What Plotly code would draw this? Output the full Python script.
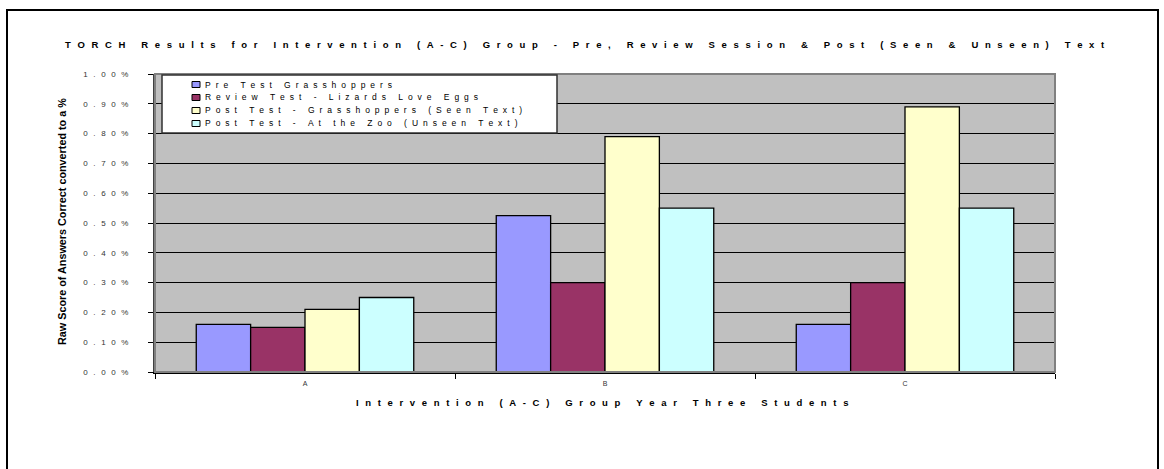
import plotly.graph_objects as go

# ---------------- data ----------------
categories = ["A", "B", "C"]
series_names = [
    "Pre Test Grasshoppers",
    "Review Test - Lizards Love Eggs",
    "Post Test - Grasshoppers (Seen Text)",
    "Post Test - At the Zoo (Unseen Text)",
]
pre_test = [0.16, 0.525, 0.16]
review_test = [0.15, 0.30, 0.30]
post_seen = [0.21, 0.79, 0.89]
post_unseen = [0.25, 0.55, 0.55]
series_values = [pre_test, review_test, post_seen, post_unseen]
series_colors = ["#9999FF", "#993366", "#FFFFCC", "#CCFFFF"]
y_ticks = [0.0, 0.1, 0.2, 0.3, 0.4, 0.5, 0.6, 0.7, 0.8, 0.9, 1.0]
y_tick_labels = ["0.00%", "0.10%", "0.20%", "0.30%", "0.40%", "0.50%",
                 "0.60%", "0.70%", "0.80%", "0.90%", "1.00%"]
title_text = "TORCH Results for Intervention (A-C) Group - Pre, Review Session & Post (Seen & Unseen) Text"
x_title_text = "Intervention (A-C) Group Year Three Students"
y_title_text = "Raw Score of Answers Correct converted to a %"

# ---------------- layout helpers ----------------
W, H = 1164, 469
ML, MR, MT, MB = 155, 109, 74, 97
PW, PH = W - ML - MR, H - MT - MB
FONT = "Liberation Sans, Arial, sans-serif"


def px(x):
    return (x - ML) / PW


def py(y):
    return (H - MB - y) / PH


def spaced(s, sep="\u2002\u2009"):
    return sep.join(ch if ch != " " else "\u00a0" for ch in s)


fig = go.Figure()
for name, vals, col in zip(series_names, series_values, series_colors):
    fig.add_trace(go.Bar(
        x=categories, y=vals, name=name,
        marker=dict(color=col, line=dict(color="#000000", width=1.3)),
        showlegend=False,
    ))

shapes = []
annotations = []

# outer chart frame: left, top and right edges (bottom edge lies below the page)
frame_path = "M {l},{b} L {l},{t} L {r},{t} L {r},{b}".format(
    l=px(7), r=px(1158), t=py(10), b=py(469))
shapes.append(dict(type="path", xref="paper", yref="paper", path=frame_path,
                   line=dict(color="#000000", width=2), layer="below"))
# plot area border (grey top/right)
shapes.append(dict(type="rect", xref="paper", yref="paper",
                   x0=0, x1=1, y0=0, y1=1,
                   line=dict(color="#808080", width=2), fillcolor="rgba(0,0,0,0)",
                   layer="above"))

# custom legend box
shapes.append(dict(type="rect", xref="paper", yref="paper",
                   x0=px(162), x1=px(557), y0=py(133), y1=py(75),
                   line=dict(color="#303030", width=1.5), fillcolor="#FFFFFF",
                   layer="above"))
row_y = [84.5, 97.5, 110.5, 123.5]
for name, col, ry in zip(series_names, series_colors, row_y):
    shapes.append(dict(type="rect", xref="paper", yref="paper",
                       x0=px(192), x1=px(200), y0=py(ry + 3), y1=py(ry - 3),
                       line=dict(color="#000000", width=1), fillcolor=col,
                       layer="above"))
    annotations.append(dict(text=spaced(name, "\u2002\u200a"), xref="paper", yref="paper",
                            x=px(203), y=py(ry), xanchor="left", yanchor="middle",
                            showarrow=False, font=dict(family=FONT, size=8.5, color="#000000")))

# title
annotations.append(dict(text="<b>" + spaced(title_text) + "</b>", xref="paper", yref="paper",
                        x=px(585), y=py(44), xanchor="center", yanchor="middle",
                        showarrow=False, font=dict(family=FONT, size=9.5, color="#000000")))
# x axis title
annotations.append(dict(text="<b>" + spaced(x_title_text) + "</b>", xref="paper", yref="paper",
                        x=px(602), y=py(402), xanchor="center", yanchor="middle",
                        showarrow=False, font=dict(family=FONT, size=9.5, color="#000000")))
# y axis title
annotations.append(dict(text="<b>" + y_title_text + "</b>", xref="paper", yref="paper",
                        x=px(62), y=py(222), xanchor="center", yanchor="middle", textangle=-90,
                        showarrow=False, font=dict(family=FONT, size=10.8, color="#000000")))

fig.update_layout(
    width=W, height=H,
    margin=dict(l=ML, r=MR, t=MT, b=MB, pad=0),
    paper_bgcolor="#FFFFFF",
    plot_bgcolor="#C0C0C0",
    barmode="group",
    bargap=0.275,
    bargroupgap=0,
    showlegend=False,
    shapes=shapes,
    annotations=annotations,
    font=dict(family=FONT, color="#333333"),
)
fig.update_xaxes(
    type="category",
    showgrid=False,
    showline=True, linecolor="#000000", linewidth=1.5,
    ticks="outside", tickson="boundaries", ticklen=5, tickcolor="#000000",
    tickfont=dict(family=FONT, size=7, color="#333333"),
    ticklabelstandoff=4,
)
fig.update_yaxes(
    range=[0, 1.0],
    tickvals=y_ticks,
    ticktext=[spaced(t) for t in y_tick_labels],
    showgrid=True, gridcolor="#000000", gridwidth=1,
    showline=True, linecolor="#404040", linewidth=2,
    ticks="outside", ticklen=5, tickcolor="#000000",
    tickfont=dict(family=FONT, size=8, color="#333333"),
    ticklabelstandoff=18,
    zeroline=False,
)

fig.write_html("out.html")
